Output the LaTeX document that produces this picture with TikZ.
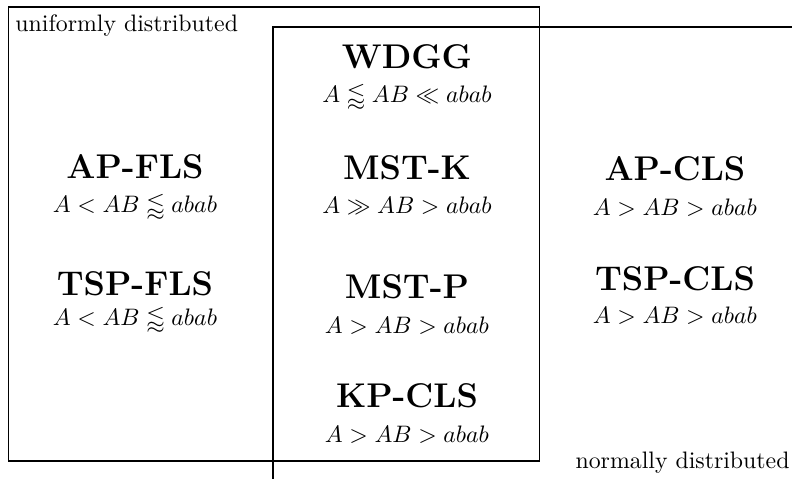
\documentclass[tikz,border=0pt]{standalone}
\usepackage{amsmath,amssymb}
\tikzset{
  algo/.style={anchor=base, inner sep=0pt, font=\Large\bfseries},
  rel/.style={anchor=base, inner sep=0pt},
  region/.style={line width=0.5pt},
  tag/.style={inner sep=0pt}
}
\begin{document}
\begin{tikzpicture}[x=0.42pt, y=-0.42pt]
  \useasboundingbox (0,0) rectangle (792,479);
  % uniformly distributed region
  \draw[region] (8.5,7) rectangle (539.5,461);
  % normally distributed region (runs past the edge)
  \draw[region] (792,27) -- (273,27) -- (273,479);
  \node[tag, anchor=base west] (uni) at (15,31) {uniformly distributed};
  \node[tag, anchor=base east] (nor) at (790,468) {normally distributed};

  % left column
  \node[algo] (apfls) at (135,178) {AP-FLS};
  \node[rel]  (apflsr) at (135,212) {$A < AB \lessapprox abab$};
  \node[algo] (tspfls) at (135,295) {TSP-FLS};
  \node[rel]  (tspflsr) at (135,325) {$A < AB \lessapprox abab$};

  % middle column
  \node[algo] (wdgg) at (407,68) {WDGG};
  \node[rel]  (wdggr) at (407,102) {$A \lessapprox AB \ll abab$};
  \node[algo] (mstk) at (407,179) {MST-K};
  \node[rel]  (mstkr) at (407,213) {$A \gg AB > abab$};
  \node[algo] (mstp) at (407,298) {MST-P};
  \node[rel]  (mstpr) at (407,333) {$A > AB > abab$};
  \node[algo] (kpcls) at (407,407) {KP-CLS};
  \node[rel]  (kpclsr) at (407,442) {$A > AB > abab$};

  % right column
  \node[algo] (apcls) at (675,180) {AP-CLS};
  \node[rel]  (apclsr) at (675,215) {$A > AB > abab$};
  \node[algo] (tspcls) at (675,290) {TSP-CLS};
  \node[rel]  (tspclsr) at (675,323) {$A > AB > abab$};
\end{tikzpicture}
\end{document}
